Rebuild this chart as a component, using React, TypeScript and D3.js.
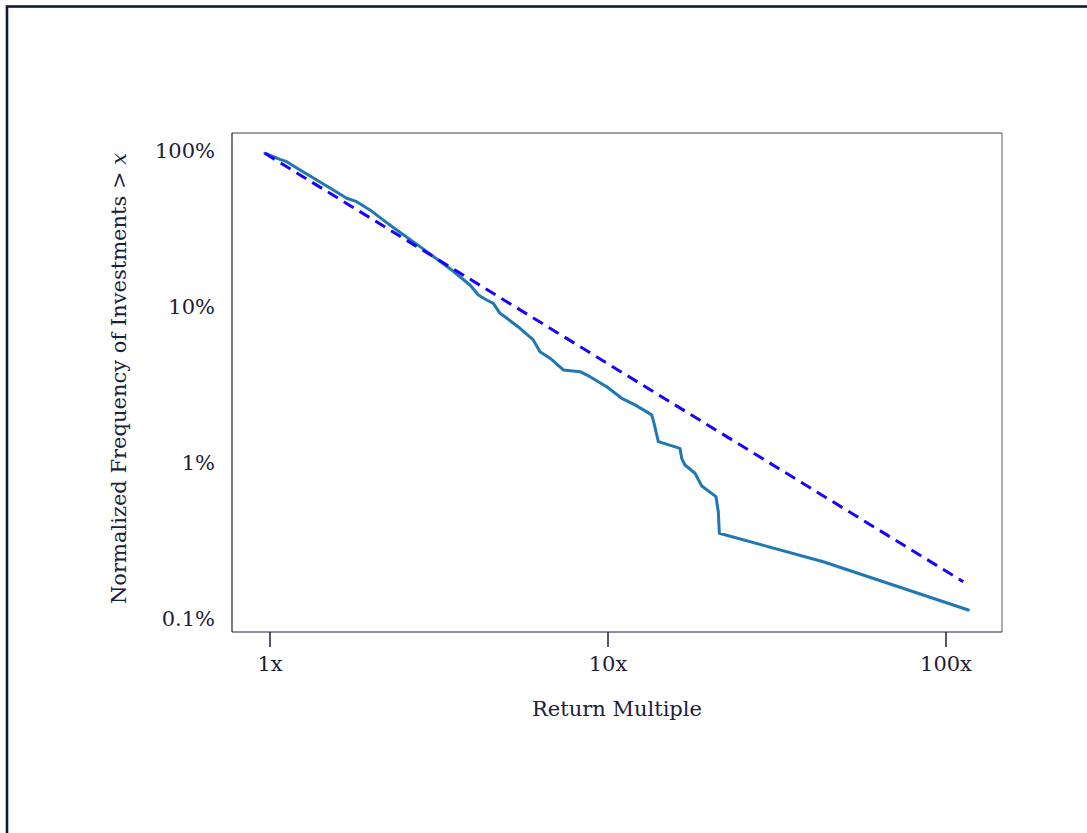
import React, { useEffect, useRef } from "react";
import * as d3 from "d3";

// Empirical curve: return multiple vs. % of investments exceeding it
const multiples = [0.966, 1.07, 1.121, 1.227, 1.375, 1.539, 1.686, 1.805, 1.976, 2.164, 2.371, 2.779, 3.448, 3.906, 4.134, 4.377, 4.578, 4.79, 4.958, 5.49, 6.011, 6.292, 6.737, 7.376, 8.265, 8.846, 9.913, 10.98, 12.02, 13.47, 13.68, 14.09, 16.33, 16.52, 16.89, 18.09, 18.94, 20.87, 21.2, 21.35, 43.35, 116.4];
const frequencyPct = [96.0, 87.8, 84.8, 75.0, 64.7, 55.8, 49.4, 47.0, 41.6, 35.8, 30.9, 24.2, 17.14, 13.73, 11.85, 11.01, 10.48, 9.04, 8.6, 7.25, 6.1, 5.13, 4.66, 3.92, 3.82, 3.55, 3.06, 2.58, 2.34, 2.02, 1.79, 1.36, 1.233, 1.064, 0.964, 0.853, 0.707, 0.604, 0.484, 0.352, 0.231, 0.1134];

// Power-law fit (dashed)
const fitMultiples = [0.966, 112.5];
const fitFrequencyPct = [95.9, 0.172];

const xTicks = [1, 10, 100];
const xTickLabels = ["1x", "10x", "100x"];
const yTicks = [100, 10, 1, 0.1];
const yTickLabels = ["100%", "10%", "1%", "0.1%"];

const W = 1087;
const H = 833;
const plot = { left: 232, right: 1002, top: 133, bottom: 632 };
const textColor = "#1c2038";
const font = "'DejaVu Serif', serif";
const fs = 21;

export default function App() {
  const ref = useRef<SVGSVGElement>(null);

  useEffect(() => {
    const svg = d3.select(ref.current);
    svg.selectAll("*").remove();

    // outer frame
    svg.append("rect")
      .attr("x", 7).attr("y", 6.5)
      .attr("width", 1300).attr("height", 1200)
      .attr("fill", "none").attr("stroke", "#111833").attr("stroke-width", 2.6);

    const x = d3.scaleLog()
      .domain([Math.pow(10, (232 - 270) / 338), Math.pow(10, (1002 - 270) / 338)])
      .range([plot.left, plot.right]);
    const y = d3.scaleLog()
      .domain([100 * Math.pow(10, -(632 - 150.5) / 156), 100 * Math.pow(10, -(133 - 150.5) / 156)])
      .range([plot.bottom, plot.top]);

    // spines
    svg.append("line").attr("x1", plot.left).attr("x2", plot.right).attr("y1", plot.top).attr("y2", plot.top)
      .attr("stroke", "#7c7f8e").attr("stroke-width", 1.3);
    svg.append("line").attr("x1", plot.right).attr("x2", plot.right).attr("y1", plot.top).attr("y2", plot.bottom)
      .attr("stroke", "#7c7f8e").attr("stroke-width", 1.3);
    svg.append("line").attr("x1", plot.left).attr("x2", plot.left).attr("y1", plot.top).attr("y2", plot.bottom)
      .attr("stroke", textColor).attr("stroke-width", 1.2);
    svg.append("line").attr("x1", plot.left).attr("x2", plot.right).attr("y1", plot.bottom).attr("y2", plot.bottom)
      .attr("stroke", textColor).attr("stroke-width", 1.2);

    // x ticks
    const xg = svg.append("g");
    xTicks.forEach((t, i) => {
      xg.append("line").attr("x1", x(t)).attr("x2", x(t)).attr("y1", plot.bottom).attr("y2", plot.bottom + 15)
        .attr("stroke", textColor).attr("stroke-width", 1.5);
      xg.append("text").attr("x", x(t)).attr("y", 671).attr("text-anchor", "middle")
        .attr("font-family", font).attr("font-size", fs).attr("fill", textColor).text(xTickLabels[i]);
    });

    // y tick labels
    yTicks.forEach((t, i) => {
      svg.append("text").attr("x", 215).attr("y", y(t)).attr("dy", "0.36em").attr("text-anchor", "end")
        .attr("font-family", font).attr("font-size", fs).attr("fill", textColor).text(yTickLabels[i]);
    });

    // axis labels
    svg.append("text").attr("x", (plot.left + plot.right) / 2).attr("y", 716).attr("text-anchor", "middle")
      .attr("font-family", font).attr("font-size", fs).attr("fill", textColor).text("Return Multiple");

    const yl = svg.append("text")
      .attr("transform", `translate(126, ${(plot.top + plot.bottom) / 2 - 4}) rotate(-90)`)
      .attr("text-anchor", "middle")
      .attr("font-family", font).attr("font-size", fs).attr("fill", textColor);
    yl.append("tspan").text("Normalized Frequency of Investments > ");
    yl.append("tspan").attr("font-style", "italic").text("x");

    const line = d3.line<[number, number]>().x(d => x(d[0])).y(d => y(d[1]));

    svg.append("path")
      .attr("d", line(multiples.map((m, i) => [m, frequencyPct[i]] as [number, number])))
      .attr("fill", "none").attr("stroke", "#1f77b4").attr("stroke-width", 3)
      .attr("stroke-linejoin", "round").attr("stroke-linecap", "round");

    svg.append("path")
      .attr("d", line(fitMultiples.map((m, i) => [m, fitFrequencyPct[i]] as [number, number])))
      .attr("fill", "none").attr("stroke", "#1a00ff").attr("stroke-width", 3)
      .attr("stroke-dasharray", "11.5,7");
  }, []);

  return (
    <div style={{ position: "fixed", left: 0, top: 0, width: W, height: H, background: "#fff" }}>
      <svg ref={ref} width={W} height={H} style={{ display: "block" }} />
    </div>
  );
}
